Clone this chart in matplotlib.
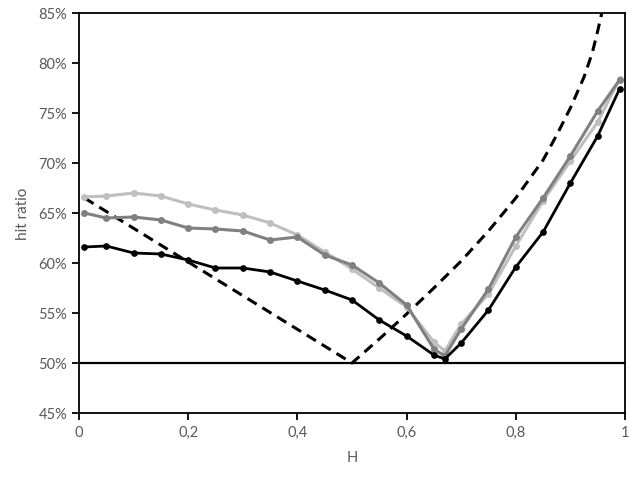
import matplotlib
matplotlib.use('Agg')
import matplotlib.pyplot as plt
from matplotlib.ticker import FuncFormatter, MultipleLocator

# x positions of the measured points
h_values = [0.01, 0.05, 0.1, 0.15, 0.2, 0.25, 0.3, 0.35, 0.4, 0.45, 0.5,
            0.55, 0.6, 0.65, 0.67, 0.7, 0.75, 0.8, 0.85, 0.9, 0.95, 0.99]

# hit ratio (%) per series
black_series = [61.6, 61.7, 61.0, 60.9, 60.3, 59.5, 59.5, 59.1, 58.2, 57.3, 56.3,
                54.3, 52.7, 50.8, 50.4, 52.0, 55.3, 59.6, 63.1, 68.0, 72.7, 77.4]
dark_gray_series = [65.0, 64.5, 64.6, 64.3, 63.5, 63.4, 63.2, 62.3, 62.6, 60.8, 59.8,
                    58.0, 55.8, 51.4, 50.7, 53.4, 57.4, 62.6, 66.5, 70.7, 75.2, 78.3]
light_gray_series = [66.6, 66.7, 67.0, 66.7, 65.9, 65.3, 64.8, 64.0, 62.8, 61.1, 59.4,
                     57.5, 55.6, 52.1, 51.2, 53.9, 56.9, 61.7, 66.2, 70.2, 74.1, 78.4]

# dashed reference curve
ref_h = [0.01, 0.5, 0.55, 0.6, 0.65, 0.7, 0.75, 0.8, 0.85, 0.875, 0.9, 0.925,
         0.94, 0.95, 0.965]
ref_ratio = [66.5, 50.0, 52.4, 54.9, 57.5, 60.2, 63.2, 66.5, 70.3, 72.8, 75.5, 78.6,
             81.0, 83.2, 86.8]

baseline = 50.0

plt.rcParams['font.family'] = ['Lato', 'DejaVu Sans']

fig = plt.figure(figsize=(6.36, 4.81), dpi=100)
ax = fig.add_axes([0.1242, 0.1393, 0.8585, 0.8316])

ax.axhline(baseline, color='black', lw=1.6, zorder=2)
ax.plot(ref_h, ref_ratio, color='black', lw=2.2, linestyle=(0, (3.5, 2.2)), zorder=3)
ax.plot(h_values, light_gray_series, color='#BFBFBF', lw=2.2, marker='o', markersize=4, zorder=4)
ax.plot(h_values, dark_gray_series, color='#808080', lw=2.2, marker='o', markersize=4, zorder=5)
ax.plot(h_values, black_series, color='black', lw=2.0, marker='o', markersize=3.8, zorder=6)

ax.set_xlim(0, 1)
ax.set_ylim(45, 85)
ax.xaxis.set_major_locator(MultipleLocator(0.2))
ax.yaxis.set_major_locator(MultipleLocator(5))
ax.xaxis.set_major_formatter(FuncFormatter(lambda v, p: f'{v:g}'.replace('.', ',')))
ax.yaxis.set_major_formatter(FuncFormatter(lambda v, p: f'{v:.0f}%'))

for s in ax.spines.values():
    s.set_linewidth(1.3)
    s.set_color('black')
ax.tick_params(direction='out', length=5, width=1.3, colors='black',
               labelcolor='#595959', labelsize=10.5)

ax.set_xlabel('H', color='#595959', fontsize=10.5, labelpad=8)
ax.set_ylabel('hit ratio', color='#595959', fontsize=11, labelpad=6)

fig.savefig('out.png', dpi=100)
